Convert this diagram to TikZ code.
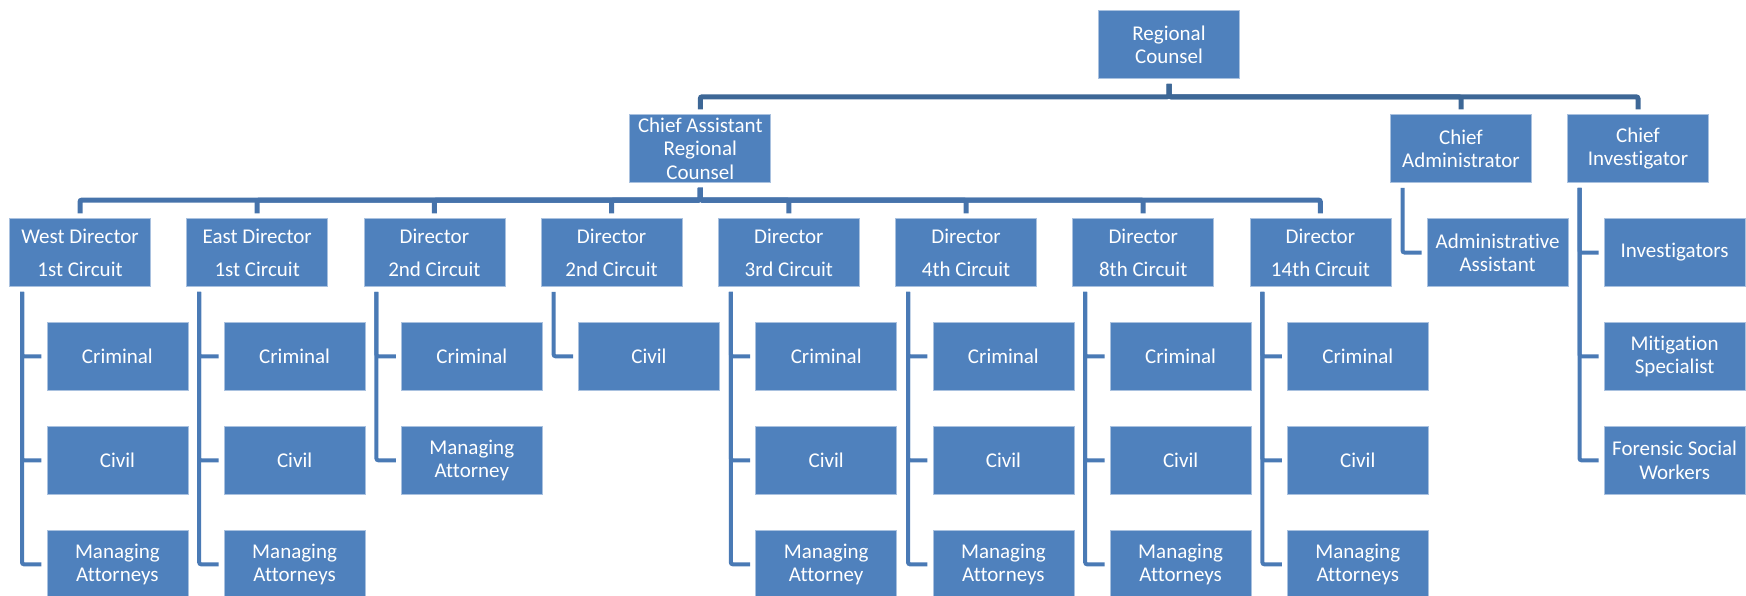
\documentclass[tikz,border=0pt]{standalone}
\usepackage{fontspec}
\setmainfont{Carlito}[Ligatures=CommonOff]
\usepackage{xcolor}

\definecolor{boxblue}{HTML}{4F81BD}
\definecolor{boxrim}{HTML}{A9C1DF}
\definecolor{busone}{HTML}{3D6796}
\definecolor{bustwo}{HTML}{4673AB}
\definecolor{busthree}{HTML}{4A7AB5}

\tikzset{
  unit/.style={rectangle, fill=boxblue, draw=boxrim, line width=0.8pt,
    text=white, align=center, inner sep=0pt, outer sep=5.5pt,
    minimum width=141pt, minimum height=67.5pt,
    font=\fontsize{21}{23.3}\selectfont},
  topbus/.style={draw=busone, line width=5pt, rounded corners=2pt},
  midbus/.style={draw=bustwo, line width=5pt, rounded corners=2pt},
  leg/.style={draw=busthree, line width=4pt, rounded corners=2pt}
}

\begin{document}
\begin{tikzpicture}[x=1pt,y=-1pt]
  \useasboundingbox (0,0) rectangle (1746,595);

  %%%%%%% TOP
  \node[unit] (rc) at (1169,44.5) {Regional\\Counsel};
  \node[unit] (carc) at (700.3,148.5) {Chief Assistant\\Regional\\Counsel};
  \node[unit] (cadm) at (1461,148.5) {Chief\\Administrator};
  \node[unit] (cinv) at (1638,148.5) {Chief\\Investigator};

  \draw[topbus] (rc.south) -- ++(0,13) -| (carc.north);
  \draw[topbus] (rc.south) -- ++(0,13) -| (cadm.north);
  \draw[topbus] (rc.south) -- ++(0,13) -| (cinv.north);

  %%%%%%% DIRECTORS
  \node[unit] (west) at (80,252.5) {West Director\\[9.5pt]1st Circuit};
  \node[unit] (east) at (257.2,252.5) {East Director\\[9.5pt]1st Circuit};
  \node[unit] (sec) at (434.4,252.5) {Director\\[9.5pt]2nd Circuit};
  \node[unit] (secb) at (611.6,252.5) {Director\\[9.5pt]2nd Circuit};
  \node[unit] (third) at (788.8,252.5) {Director\\[9.5pt]3rd Circuit};
  \node[unit] (fourth) at (966,252.5) {Director\\[9.5pt]4th Circuit};
  \node[unit] (eighth) at (1143.2,252.5) {Director\\[9.5pt]8th Circuit};
  \node[unit] (fourteenth) at (1320.4,252.5) {Director\\[9.5pt]14th Circuit};

  \draw[midbus] (carc.south) -- ++(0,12.3) -| (west.north);
  \draw[midbus] (carc.south) -- ++(0,12.3) -| (east.north);
  \draw[midbus] (carc.south) -- ++(0,12.3) -| (sec.north);
  \draw[midbus] (carc.south) -- ++(0,12.3) -| (secb.north);
  \draw[midbus] (carc.south) -- ++(0,12.3) -| (third.north);
  \draw[midbus] (carc.south) -- ++(0,12.3) -| (fourth.north);
  \draw[midbus] (carc.south) -- ++(0,12.3) -| (eighth.north);
  \draw[midbus] (carc.south) -- ++(0,12.3) -| (fourteenth.north);

  %%%%%%% STAFF
  \node[unit] (asst) at (1497.6,252.5) {Administrative\\Assistant};
  \node[unit] (invs) at (1674.6,252.5) {Investigators};
  \node[unit] (mitig) at (1674.6,356.3) {Mitigation\\Specialist};
  \node[unit] (fsw) at (1674.6,460.3) {Forensic Social\\Workers};

  \draw[leg] ([xshift=17.5pt]cadm.south west) |- (asst.west);
  \draw[leg] ([xshift=17.5pt]cinv.south west) |- (invs.west);
  \draw[leg] ([xshift=17.5pt]cinv.south west) |- (mitig.west);
  \draw[leg] ([xshift=17.5pt]cinv.south west) |- (fsw.west);

  %%%%%%% UNITS
  \node[unit] (westcrim) at (117.4,356.3) {Criminal};
  \node[unit] (westciv) at (117.4,460.3) {Civil};
  \node[unit] (westmgr) at (117.4,564.3) {Managing\\Attorneys};
  \draw[leg] ([xshift=18pt]west.south west) |- (westcrim.west);
  \draw[leg] ([xshift=18pt]west.south west) |- (westciv.west);
  \draw[leg] ([xshift=18pt]west.south west) |- (westmgr.west);

  \node[unit] (eastcrim) at (294.6,356.3) {Criminal};
  \node[unit] (eastciv) at (294.6,460.3) {Civil};
  \node[unit] (eastmgr) at (294.6,564.3) {Managing\\Attorneys};
  \draw[leg] ([xshift=18pt]east.south west) |- (eastcrim.west);
  \draw[leg] ([xshift=18pt]east.south west) |- (eastciv.west);
  \draw[leg] ([xshift=18pt]east.south west) |- (eastmgr.west);

  \node[unit] (seccrim) at (471.8,356.3) {Criminal};
  \node[unit] (secmgr) at (471.8,460.3) {Managing\\Attorney};
  \draw[leg] ([xshift=18pt]sec.south west) |- (seccrim.west);
  \draw[leg] ([xshift=18pt]sec.south west) |- (secmgr.west);

  \node[unit] (secbciv) at (649,356.3) {Civil};
  \draw[leg] ([xshift=18pt]secb.south west) |- (secbciv.west);

  \node[unit] (thirdcrim) at (826.2,356.3) {Criminal};
  \node[unit] (thirdciv) at (826.2,460.3) {Civil};
  \node[unit] (thirdmgr) at (826.2,564.3) {Managing\\Attorney};
  \draw[leg] ([xshift=18pt]third.south west) |- (thirdcrim.west);
  \draw[leg] ([xshift=18pt]third.south west) |- (thirdciv.west);
  \draw[leg] ([xshift=18pt]third.south west) |- (thirdmgr.west);

  \node[unit] (fourthcrim) at (1003.4,356.3) {Criminal};
  \node[unit] (fourthciv) at (1003.4,460.3) {Civil};
  \node[unit] (fourthmgr) at (1003.4,564.3) {Managing\\Attorneys};
  \draw[leg] ([xshift=18pt]fourth.south west) |- (fourthcrim.west);
  \draw[leg] ([xshift=18pt]fourth.south west) |- (fourthciv.west);
  \draw[leg] ([xshift=18pt]fourth.south west) |- (fourthmgr.west);

  \node[unit] (eighthcrim) at (1180.6,356.3) {Criminal};
  \node[unit] (eighthciv) at (1180.6,460.3) {Civil};
  \node[unit] (eighthmgr) at (1180.6,564.3) {Managing\\Attorneys};
  \draw[leg] ([xshift=18pt]eighth.south west) |- (eighthcrim.west);
  \draw[leg] ([xshift=18pt]eighth.south west) |- (eighthciv.west);
  \draw[leg] ([xshift=18pt]eighth.south west) |- (eighthmgr.west);

  \node[unit] (fourteenthcrim) at (1357.8,356.3) {Criminal};
  \node[unit] (fourteenthciv) at (1357.8,460.3) {Civil};
  \node[unit] (fourteenthmgr) at (1357.8,564.3) {Managing\\Attorneys};
  \draw[leg] ([xshift=18pt]fourteenth.south west) |- (fourteenthcrim.west);
  \draw[leg] ([xshift=18pt]fourteenth.south west) |- (fourteenthciv.west);
  \draw[leg] ([xshift=18pt]fourteenth.south west) |- (fourteenthmgr.west);
\end{tikzpicture}
\end{document}
